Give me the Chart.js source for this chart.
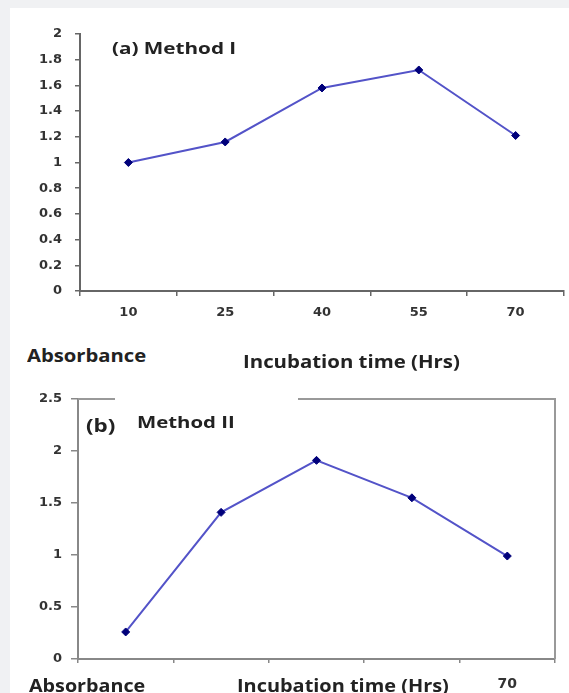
<!DOCTYPE html>
<html><head><meta charset="utf-8">
<script src="https://cdn.jsdelivr.net/npm/chart.js@4"></script>
<style>
html,body{margin:0;padding:0;}
body{width:569px;height:693px;background:#f0f1f3;position:relative;overflow:hidden;font-family:'Open Sans',sans-serif;}
#panel{position:absolute;left:10px;top:8px;right:0;bottom:0;background:#fff;}
.box{position:absolute;left:0;width:569px;}
.lbl{position:absolute;font-weight:bold;color:#222;white-space:nowrap;transform-origin:0 50%;line-height:1;}
</style></head>
<body>
<div id="panel"></div>
<div class="box" style="top:0;height:340px"><canvas id="ca"></canvas></div>
<div class="box" style="top:370px;height:323px"><canvas id="cb"></canvas></div>
<div class="lbl" data-x="112" data-cy="48" data-w="124" style="font-size:16px">(a) Method I</div>
<div class="lbl" data-x="27" data-cy="355" data-w="119" style="font-size:17px">Absorbance</div>
<div class="lbl" data-x="243" data-cy="361" data-w="217" style="font-size:17px">Incubation time (Hrs)</div>
<div class="lbl" data-x="86" data-cy="425" data-w="29" style="font-size:17px">(b)</div>
<div class="lbl" data-x="137" data-cy="422" data-w="98" style="font-size:16px">Method II</div>
<div class="lbl" data-x="29" data-cy="685" data-w="116" style="font-size:17px">Absorbance</div>
<div class="lbl" data-x="237" data-cy="685" data-w="212" style="font-size:17px">Incubation time (Hrs)</div>
<script>
// ---- data ----
const categories = ['10', '25', '40', '55', '70'];
const absorbanceA = [1.00, 1.16, 1.58, 1.72, 1.21];
const absorbanceB = [0.26, 1.41, 1.91, 1.55, 0.99];
const yTickLabelsA = ['0', '0.2', '0.4', '0.6', '0.8', '1', '1.2', '1.4', '1.6', '1.8', '2'];
const yTickLabelsB = ['0', '0.5', '1', '1.5', '2', '2.5'];
const xTickLabelsB = ['', '', '', '', '70'];

// ---- text fitting ----
document.querySelectorAll('.lbl').forEach(el => {
  const w = el.offsetWidth, h = el.offsetHeight;
  el.style.left = el.dataset.x + 'px';
  el.style.top = (parseFloat(el.dataset.cy) - h / 2) + 'px';
  el.style.transform = 'scaleX(' + (parseFloat(el.dataset.w) / w) + ')';
});

const tickFont = {family: 'DejaVu Sans', weight: 'bold', size: 13};
const lineColor = '#5353c8';
const pointColor = '#00007a';

function dataset(values) {
  return {
    data: values,
    borderColor: lineColor,
    borderWidth: 2,
    pointStyle: 'rectRot',
    pointRadius: 4,
    pointBackgroundColor: pointColor,
    pointBorderColor: pointColor,
    pointBorderWidth: 1,
    tension: 0,
    fill: false
  };
}

const common = {
  responsive: true,
  maintainAspectRatio: false,
  animation: false,
  plugins: {legend: {display: false}, tooltip: {enabled: false}, title: {display: false}}
};

new Chart(document.getElementById('ca'), {
  type: 'line',
  data: {labels: categories, datasets: [dataset(absorbanceA)]},
  options: Object.assign({}, common, {
    layout: {padding: {top: 34, right: 3, left: 0, bottom: 0}},
    scales: {
      x: {
        offset: true,
        grid: {offset: true, drawOnChartArea: false, tickLength: 5, color: '#666', lineWidth: 1.5},
        border: {display: true, color: '#666', width: 2},
        ticks: {font: tickFont, color: '#333', padding: 9, maxRotation: 0, autoSkip: false},
        afterFit: s => { s.height = 49; }
      },
      y: {
        min: 0, max: 2,
        grid: {drawOnChartArea: false, tickLength: 5, color: '#666', lineWidth: 1.5},
        border: {display: true, color: '#666', width: 2},
        ticks: {stepSize: 0.2, font: tickFont, color: '#333', padding: 13,
                callback: (v, i) => yTickLabelsA[i]},
        afterFit: s => { s.width = 80; }
      }
    }
  })
});

const frameB = {
  id: 'frameB',
  afterDraw(chart) {
    const {ctx, chartArea: a} = chart;
    ctx.save();
    ctx.strokeStyle = '#999';
    ctx.lineWidth = 2;
    ctx.beginPath();
    ctx.moveTo(a.right, a.bottom);
    ctx.lineTo(a.right, a.top);
    ctx.lineTo(a.left + 220, a.top);
    ctx.moveTo(a.left + 37, a.top);
    ctx.lineTo(a.left, a.top);
    ctx.stroke();
    ctx.restore();
  }
};

new Chart(document.getElementById('cb'), {
  type: 'line',
  data: {labels: categories, datasets: [dataset(absorbanceB)]},
  plugins: [frameB],
  options: Object.assign({}, common, {
    layout: {padding: {top: 29, right: 14, left: 0, bottom: 0}},
    scales: {
      x: {
        offset: true,
        grid: {offset: true, drawOnChartArea: false, tickLength: 4, color: '#888', lineWidth: 1.5},
        border: {display: true, color: '#888', width: 2},
        ticks: {font: {family: 'DejaVu Sans', weight: 'bold', size: 14}, color: '#333', padding: 13,
                maxRotation: 0, autoSkip: false, callback: (v, i) => xTickLabelsB[i]},
        afterFit: s => { s.height = 34; }
      },
      y: {
        min: 0, max: 2.5,
        grid: {drawOnChartArea: false, tickLength: 7, color: '#888', lineWidth: 1.5},
        border: {display: true, color: '#888', width: 2},
        ticks: {stepSize: 0.5, font: tickFont, color: '#333', padding: 9,
                callback: (v, i) => yTickLabelsB[i]},
        afterFit: s => { s.width = 78; }
      }
    }
  })
});
</script>
</body></html>
